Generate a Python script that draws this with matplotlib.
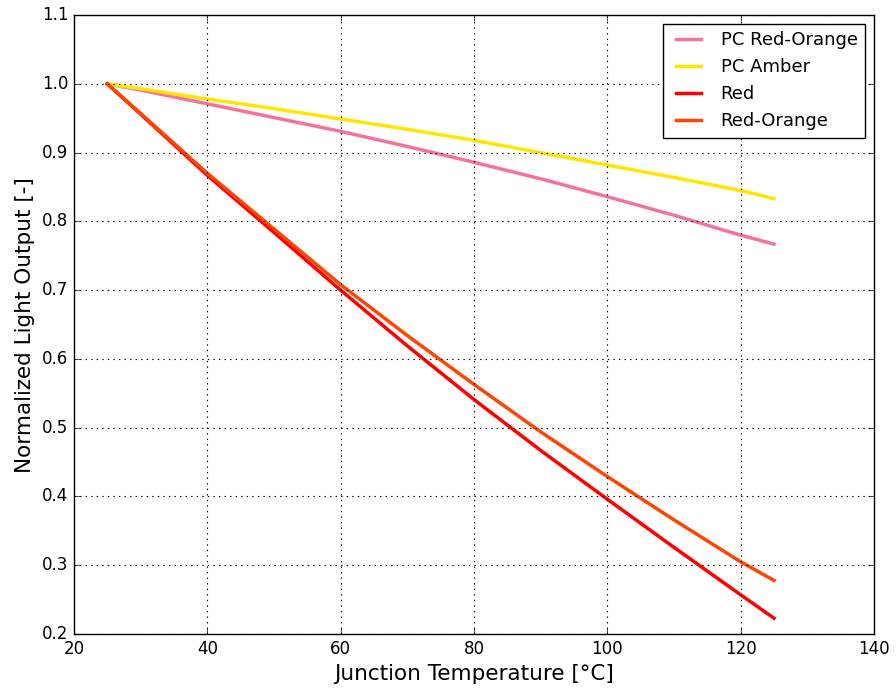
import matplotlib
matplotlib.use('Agg')
import matplotlib.pyplot as plt
from matplotlib.ticker import MultipleLocator, FormatStrFormatter

# junction temperature [degC]
temps = [25, 30, 40, 50, 60, 70, 80, 90, 100, 110, 120, 125]

pc_red_orange = [1.0, 0.991, 0.971, 0.951, 0.931, 0.909, 0.886, 0.862, 0.836, 0.809, 0.780, 0.767]
pc_amber = [1.0, 0.993, 0.978, 0.964, 0.949, 0.934, 0.918, 0.900, 0.882, 0.864, 0.845, 0.833]
red = [1.0, 0.956, 0.867, 0.784, 0.700, 0.619, 0.541, 0.467, 0.396, 0.326, 0.257, 0.223]
red_orange = [1.0, 0.957, 0.870, 0.789, 0.708, 0.634, 0.563, 0.494, 0.429, 0.366, 0.305, 0.278]

plt.style.use('classic')
fig = plt.figure(figsize=(8.96, 6.88), dpi=100, facecolor='white')
ax = fig.add_axes([0.0826, 0.0785, 0.8928, 0.8995])

ax.plot(temps, pc_red_orange, color='#F5739A', lw=2.5, label='PC Red-Orange')
ax.plot(temps, pc_amber, color='#FFE600', lw=2.5, label='PC Amber')
ax.plot(temps, red, color='#FF0000', lw=2.5, label='Red')
ax.plot(temps, red_orange, color='#FF4500', lw=2.5, label='Red-Orange')

ax.set_xlim(20, 140)
ax.set_ylim(0.2, 1.1)
ax.yaxis.set_major_locator(MultipleLocator(0.1))
ax.yaxis.set_major_formatter(FormatStrFormatter('%.1f'))
ax.set_xlabel('Junction Temperature [°C]', fontsize=15.5)
ax.set_ylabel('Normalized Light Output [-]', fontsize=15.5)
ax.tick_params(labelsize=12)
ax.grid(True, color='black', linestyle=':', linewidth=0.8)
ax.legend(loc='upper right', fontsize=13)

fig.savefig('out.png', dpi=100, facecolor='white')
